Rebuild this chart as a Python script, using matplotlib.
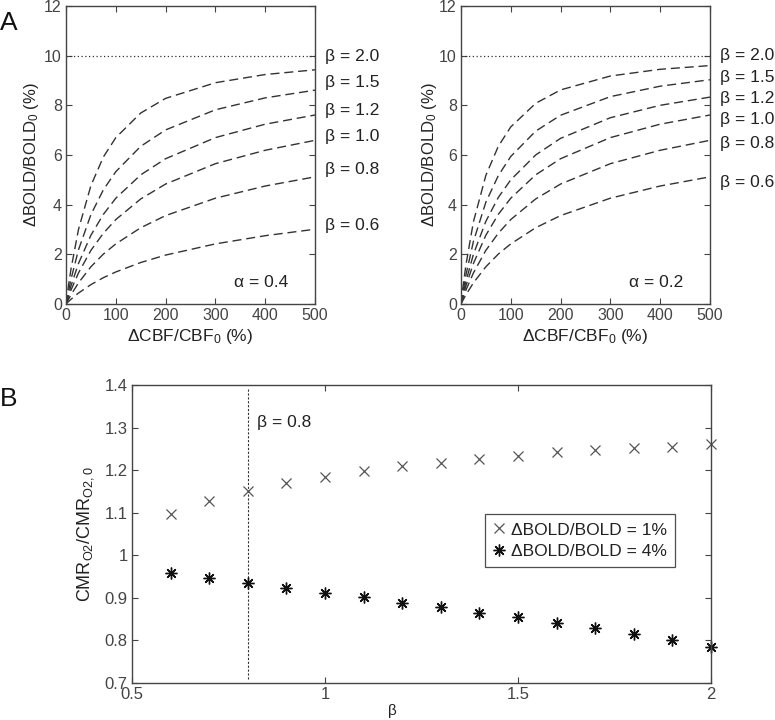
import matplotlib
matplotlib.use("Agg")
import matplotlib.pyplot as plt

# Panel A: BOLD signal change vs CBF change
cbf = [0, 5, 10, 25, 50, 75, 100, 150, 200, 300, 400, 500]
betas = ["0.6", "0.8", "1.0", "1.2", "1.5", "2.0"]

bold_a04 = [
    [0, 0.10, 0.19, 0.44, 0.78, 1.06, 1.29, 1.67, 1.97, 2.42, 2.75, 3.01],
    [0, 0.19, 0.37, 0.85, 1.50, 2.01, 2.42, 3.07, 3.56, 4.26, 4.75, 5.12],
    [0, 0.29, 0.56, 1.25, 2.16, 2.85, 3.40, 4.23, 4.83, 5.65, 6.19, 6.59],
    [0, 0.38, 0.73, 1.63, 2.77, 3.61, 4.26, 5.20, 5.85, 6.70, 7.24, 7.61],
    [0, 0.52, 1.00, 2.18, 3.60, 4.60, 5.33, 6.35, 7.01, 7.82, 8.30, 8.61],
    [0, 0.75, 1.41, 3.00, 4.77, 5.92, 6.70, 7.69, 8.28, 8.91, 9.24, 9.43],
]
bold_a02 = [
    [0, 0.19, 0.37, 0.85, 1.50, 2.01, 2.42, 3.07, 3.56, 4.26, 4.75, 5.12],
    [0, 0.29, 0.56, 1.25, 2.16, 2.85, 3.40, 4.23, 4.83, 5.65, 6.19, 6.59],
    [0, 0.38, 0.73, 1.63, 2.77, 3.61, 4.26, 5.20, 5.85, 6.70, 7.24, 7.61],
    [0, 0.48, 0.91, 2.00, 3.33, 4.29, 5.00, 6.00, 6.67, 7.50, 8.00, 8.33],
    [0, 0.61, 1.17, 2.52, 4.10, 5.17, 5.94, 6.96, 7.60, 8.35, 8.77, 9.03],
    [0, 0.84, 1.58, 3.31, 5.18, 6.35, 7.13, 8.08, 8.62, 9.18, 9.45, 9.60],
]
# label heights next to the right axis
label_y_a04 = [3.18, 5.40, 6.73, 7.81, 8.90, 9.95]
label_y_a02 = [4.91, 6.48, 7.41, 8.26, 9.14, 9.99]

# Panel B: CMRO2 ratio vs beta
beta_b = [0.6, 0.7, 0.8, 0.9, 1.0, 1.1, 1.2, 1.3, 1.4, 1.5, 1.6, 1.7, 1.8, 1.9, 2.0]
cmro2_1pct = [1.097, 1.127, 1.151, 1.170, 1.184, 1.198, 1.209, 1.217, 1.225,
              1.233, 1.242, 1.247, 1.253, 1.255, 1.261]
cmro2_4pct = [0.959, 0.947, 0.934, 0.922, 0.912, 0.901, 0.888, 0.879, 0.865,
              0.854, 0.840, 0.830, 0.814, 0.800, 0.785]

line_col = "#333333"
text_col = "#222222"
tick_col = "#444444"

plt.rcParams["font.family"] = ["Liberation Sans", "DejaVu Sans"]
plt.rcParams["mathtext.fontset"] = "custom"
plt.rcParams["mathtext.rm"] = "Liberation Sans"
plt.rcParams["mathtext.default"] = "regular"

fig = plt.figure(figsize=(7.75, 7.2), dpi=100)


def style_axes(ax, fs):
    for sp in ax.spines.values():
        sp.set_color("#444444")
        sp.set_linewidth(1.0)
    ax.tick_params(direction="in", top=True, right=True, length=4,
                   width=0.8, color="#444444", labelsize=fs,
                   labelcolor=tick_col, pad=3)


def panel_a(rect, data, label_y, alpha_txt, ypad):
    ax = fig.add_axes(rect)
    for vals in data:
        ax.plot(cbf, vals, color=line_col, lw=1.0, dashes=(6.5, 3.5))
    ax.plot([0, 500], [10, 10], color=line_col, lw=0.9, linestyle=(0, (1, 2)))
    for b, y in zip(betas, label_y):
        ax.text(520, y, "\u03b2 = " + b, fontsize=12.5, color=text_col,
                va="center", ha="left", clip_on=False)
    ax.text(338, 0.85, "\u03b1 = " + alpha_txt, fontsize=12.5, color=text_col,
            va="center", ha="left")
    ax.set_xlim(0, 500)
    ax.set_ylim(0, 12)
    ax.set_xticks([0, 100, 200, 300, 400, 500])
    ax.set_yticks([0, 2, 4, 6, 8, 10, 12])
    ax.set_xlabel("\u0394CBF/CBF$_0$ (%)", fontsize=12.5, color=text_col,
                  labelpad=3)
    ax.set_ylabel("\u0394BOLD/BOLD$_0$ (%)", fontsize=12, color=text_col,
                  labelpad=ypad)
    style_axes(ax, 11.5)
    return ax


panel_a([0.0852, 0.5778, 0.3213, 0.4139], bold_a04, label_y_a04, "0.4", 2)
panel_a([0.5948, 0.5778, 0.3213, 0.4139], bold_a02, label_y_a02, "0.2", 0)

# Panel B
axb = fig.add_axes([0.1703, 0.0514, 0.7471, 0.4139])
axb.plot([0.8, 0.8], [0.71, 1.39], color=line_col, lw=0.8,
         linestyle=(0, (2, 1.5)))
axb.plot(beta_b, cmro2_1pct, linestyle="none", marker="x", ms=7, mew=0.9,
         color="#555555", label="\u0394BOLD/BOLD = 1%", clip_on=False)
axb.plot(beta_b, cmro2_4pct, linestyle="none", marker=(8, 2, 0), ms=8.5,
         mew=1.0, color="#111111", label="\u0394BOLD/BOLD = 4%", clip_on=False)
axb.text(0.825, 1.311, "\u03b2 = 0.8", fontsize=12.5, color=text_col,
         va="center", ha="left")
axb.set_xlim(0.5, 2)
axb.set_ylim(0.7, 1.4)
axb.set_xticks([0.5, 1, 1.5, 2])
axb.set_xticklabels(["0.5", "1", "1.5", "2"])
axb.set_yticks([0.7, 0.8, 0.9, 1.0, 1.1, 1.2, 1.3, 1.4])
axb.set_yticklabels(["0.7", "0.8", "0.9", "1", "1.1", "1.2", "1.3", "1.4"])
axb.set_xlabel("\u03b2", fontsize=11, color=text_col)
axb.xaxis.set_label_coords(0.45, -0.072)
axb.set_ylabel("CMR$_{O2}$/CMR$_{O2,0}$", fontsize=13, color=text_col,
               labelpad=6)
style_axes(axb, 12)
leg = axb.legend(loc="center", bbox_to_anchor=(0.774, 0.478), fontsize=12.5,
                 frameon=True, fancybox=False, handlelength=0.6,
                 handletextpad=0.4, borderpad=0.5, labelspacing=0.35)
leg.get_frame().set_edgecolor("#222222")
leg.get_frame().set_linewidth(0.9)
for t in leg.get_texts():
    t.set_color(text_col)

fig.text(0.0, 0.985, "A", fontsize=19, color="#111111", va="top", ha="left")
fig.text(0.0, 0.462, "B", fontsize=19, color="#111111", va="top", ha="left")

fig.savefig("out.png", dpi=100)
